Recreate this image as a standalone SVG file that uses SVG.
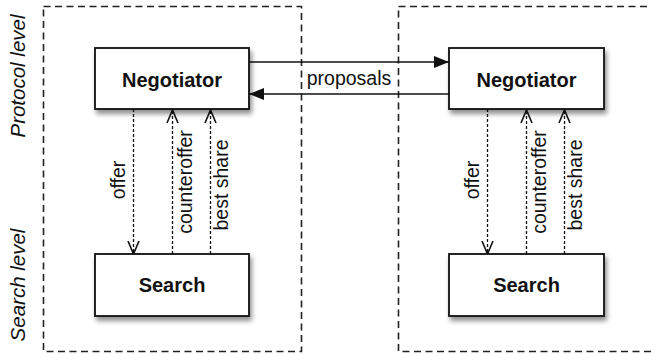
<svg xmlns="http://www.w3.org/2000/svg" width="651" height="354" viewBox="0 0 651 354">
<defs>
<style>
.lvl{fill:none;stroke:#222;stroke-width:1.6;stroke-dasharray:7 4.5}
.node{fill:#fff;stroke:#111;stroke-width:1.8}
.nt{font-family:"Liberation Sans",Arial,sans-serif;font-weight:bold;font-size:20px;fill:#111;text-anchor:middle}
.lt{font-family:"Liberation Sans",Arial,sans-serif;font-size:19.5px;fill:#111;text-anchor:middle}
.side{font-family:"Liberation Sans",Arial,sans-serif;font-style:italic;font-size:20.5px;fill:#111;text-anchor:middle}
.solid{fill:none;stroke:#111;stroke-width:1.5}
.dash{fill:none;stroke:#111;stroke-width:1.3;stroke-dasharray:3 2}
</style>
<filter id="sh" x="-20%" y="-20%" width="150%" height="160%">
<feGaussianBlur in="SourceAlpha" stdDeviation="2.5"/>
<feOffset dx="2" dy="4" result="b"/>
<feComponentTransfer><feFuncA type="linear" slope="0.45"/></feComponentTransfer>
<feMerge><feMergeNode/><feMergeNode in="SourceGraphic"/></feMerge>
</filter>
<marker id="fill" markerWidth="16" markerHeight="12" refX="15" refY="6" orient="auto" markerUnits="userSpaceOnUse">
<path d="M0,0 L15,6 L0,12 Z" fill="#111" stroke="none"/>
</marker>
<marker id="open" markerWidth="15" markerHeight="14" refX="13.5" refY="6.5" orient="auto" markerUnits="userSpaceOnUse">
<path d="M0.5,1 L13.5,6.5 L0.5,12" fill="none" stroke="#111" stroke-width="1.6" stroke-dasharray="none"/>
</marker>
</defs>
<rect width="651" height="354" fill="#fff"/>
<g id="levels">
<rect class="lvl" x="43.5" y="6.5" width="258" height="345"/>
<rect class="lvl" x="398.5" y="6.5" width="270" height="345"/>
<text class="side" transform="translate(25,76) rotate(-90)">Protocol level</text>
<text class="side" transform="translate(25,285) rotate(-90)">Search level</text>
</g>
<g id="connectors">
<line class="solid" x1="249" y1="62" x2="449" y2="62" marker-end="url(#fill)"/>
<line class="solid" x1="449" y1="94" x2="249" y2="94" marker-end="url(#fill)"/>
<text class="lt" x="349" y="85">proposals</text>
<line class="dash" x1="133.5" y1="109" x2="133.5" y2="254" marker-end="url(#open)"/>
<line class="dash" x1="172.5" y1="254" x2="172.5" y2="110" marker-end="url(#open)"/>
<line class="dash" x1="210.5" y1="254" x2="210.5" y2="110" marker-end="url(#open)"/>
<text class="lt" transform="translate(125,180) rotate(-90)">offer</text>
<text class="lt" transform="translate(192,182) rotate(-90)">counteroffer</text>
<text class="lt" transform="translate(228,185) rotate(-90)">best share</text>
<line class="dash" x1="487.5" y1="109" x2="487.5" y2="254" marker-end="url(#open)"/>
<line class="dash" x1="526.5" y1="254" x2="526.5" y2="110" marker-end="url(#open)"/>
<line class="dash" x1="564.5" y1="254" x2="564.5" y2="110" marker-end="url(#open)"/>
<text class="lt" transform="translate(479,180) rotate(-90)">offer</text>
<text class="lt" transform="translate(546,182) rotate(-90)">counteroffer</text>
<text class="lt" transform="translate(582,185) rotate(-90)">best share</text>
</g>
<g id="negotiator-left">
<rect class="node" x="95" y="48" width="154" height="61" filter="url(#sh)"/>
<text class="nt" x="172" y="87">Negotiator</text>
</g>
<g id="negotiator-right">
<rect class="node" x="449" y="48" width="155" height="61" filter="url(#sh)"/>
<text class="nt" x="526.5" y="87">Negotiator</text>
</g>
<g id="search-left">
<rect class="node" x="95" y="254" width="154" height="62" filter="url(#sh)"/>
<text class="nt" x="172" y="292">Search</text>
</g>
<g id="search-right">
<rect class="node" x="449" y="254" width="155" height="62" filter="url(#sh)"/>
<text class="nt" x="526.5" y="292">Search</text>
</g>
</svg>
